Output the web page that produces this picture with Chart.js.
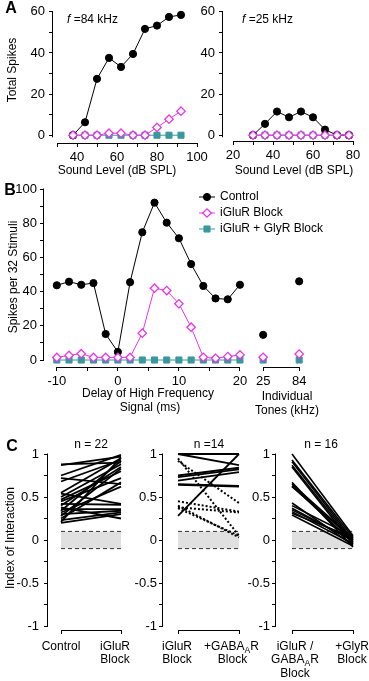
<!DOCTYPE html>
<html>
<head>
<meta charset="utf-8">
<script src="https://cdn.jsdelivr.net/npm/chart.js@4.4.1/dist/chart.umd.min.js"></script>
<style>
  html, body { margin: 0; padding: 0; background: #fff; }
  #wrap { position: relative; width: 369px; height: 681px; overflow: hidden; }
  #wrap canvas { position: absolute; left: 0; top: 0; }
</style>
</head>
<body>
<div id="wrap">
  <canvas id="a84" width="369" height="681"></canvas>
  <canvas id="a25" width="369" height="681"></canvas>
  <canvas id="delay" width="369" height="681"></canvas>
  <canvas id="c1" width="369" height="681"></canvas>
  <canvas id="c2" width="369" height="681"></canvas>
  <canvas id="c3" width="369" height="681"></canvas>
</div>
<script>
// ---- Panel A: total spikes vs sound level (dB SPL) ----
const levels84 = [38, 44, 50, 56, 62, 68, 74, 80, 86, 92];
const control84 = [0, 6.3, 27.4, 37.6, 33.2, 39.5, 51.7, 53.3, 57.5, 58.5];
const iglur84 = [0, 0, 0, 1, 1, 0, 0, 3.8, 7.8, 11.7];
const glyr84 = [0, 0, 0, 0, 0, 0, 0, 0, 0, 0];

const levels25 = [30, 36, 42, 48, 54, 60, 66, 72, 78];
const control25 = [0, 5.5, 11.5, 8.7, 11.5, 8.7, 2.7, 0, 0];
const iglur25 = [0, 0, 0, 0, 0, 0, 0, 0, 0];
const glyr25 = [0, 0, 0, 0, 0, 0, 0, 0, 0];

// ---- Panel B: spikes per 32 stimuli vs delay (ms) ----
const delays = [-10, -8, -6, -4, -2, 0, 2, 4, 6, 8, 10, 12, 14, 16, 18, 20];
const controlDelay = [43.7, 45.8, 44, 45, 15.2, 4.7, 45.5, 74.7, 92, 80.3, 71.2, 56.1, 43.3, 36, 35.5, 44];
const iglurDelay = [1.5, 2.7, 3.7, 1.5, 1.5, 1.5, 1.5, 15.7, 42, 40.6, 32.9, 19.2, 1.6, 1, 2, 3];
const glyrDelay = [0, 0, 0, 0, 0, 0, 0, 0, 0, 0, 0, 0, 0, 0, 0, 0];
const toneLabels = ['25', '84'];
const controlTones = [14.7, 46];
const iglurTones = [1.6, 3.5];
const glyrTones = [0, 0];
const seriesNames = ['Control', 'iGluR Block', 'iGluR + GlyR Block'];

// ---- Panel C: index of interaction, before -> after ----
const c1Control = [0.88, 0.87, 0.75, 0.72, 0.68, 0.55, 0.54, 0.50, 0.47, 0.45, 0.42, 0.40, 0.38, 0.36, 0.34, 0.32, 0.30, 0.28, 0.25, 0.23, 0.21, 0.20];
const c1Iglur = [0.90, 0.97, 0.99, 0.65, 0.93, 0.95, 0.42, 0.88, 0.80, 0.72, 0.41, 0.85, 0.25, 0.36, 0.92, 0.62, 0.34, 0.83, 0.67, 0.32, 0.96, 0.30];
const c2SolidIglur = [1.0, 1.0, 0.75, 0.73, 0.69, 0.65, 0.64, 0.28];
const c2SolidGaba = [1.0, 0.87, 0.84, 0.82, 0.79, 0.63, 0.62, 1.0];
const c2DottedIglur = [0.95, 0.92, 0.45, 0.40, 0.38, 0.37];
const c2DottedGaba = [0.05, 0.43, 0.33, 0.03, 0.32, 0.05];
const c3Gaba = [1.0, 0.93, 0.91, 0.87, 0.85, 0.67, 0.65, 0.63, 0.62, 0.43, 0.40, 0.37, 0.35, 0.33, 0.31, 0.29];
const c3Glyr = [0.05, 0.03, 0.0, -0.02, -0.05, -0.08, 0.02, -0.03, 0.01, -0.06, 0.04, -0.01, 0.0, -0.04, 0.03, -0.07];
const noiseBand = [-0.1, 0.1];

const W = 369, H = 681;
const Y_BOX = 40, X_BOX = 24; // room kept for tick labels
const FONT = '"Liberation Sans", Arial, Helvetica, sans-serif';
const range = (a, b, s) => { const out = []; for (let v = a; v <= b + 1e-9; v += s) out.push(Math.round(v * 100) / 100); return out; };
const every = step => v => Math.abs(v / step - Math.round(v / step)) < 1e-9 ? String(v) : '';

// order: diamonds drawn on top, then circles, squares underneath
const controlStyle = {order: 1, borderColor: '#000', backgroundColor: '#000', borderWidth: 1, pointStyle: 'circle', pointRadius: 3.6,
  pointBackgroundColor: '#000', pointBorderColor: '#000', pointBorderWidth: 1};
const iglurStyle = {order: 0, borderColor: '#e935e9', backgroundColor: '#fff', borderWidth: 1, pointStyle: 'rectRot', pointRadius: 4.2,
  pointBackgroundColor: '#fff', pointBorderColor: '#e935e9', pointBorderWidth: 1.3};
const glyrStyle = {order: 2, borderColor: '#3a989c', backgroundColor: '#3a989c', borderWidth: 1, pointStyle: 'rect', pointRadius: 4.3,
  pointBackgroundColor: '#3a989c', pointBorderColor: '#3a989c', pointBorderWidth: 1};

function series(xs, ys, style, extra) {
  return Object.assign({data: xs.map((x, i) => ({x, y: ys[i]})), clip: false, fill: false}, style, extra || {});
}

function linearAxis(min, max, ticks, label, pad, size) {
  return {
    type: 'linear', min, max,
    afterFit: s => { if (s.isHorizontal()) s.height = X_BOX; else s.width = Y_BOX; },
    afterBuildTicks: s => { s.ticks = ticks.map(v => ({value: v})); },
    grid: {drawOnChartArea: false, drawTicks: true, tickLength: 4, tickColor: '#000', tickWidth: 1, color: '#000'},
    border: {display: false},
    ticks: {padding: pad, color: '#000', font: {family: FONT, size: size || 12}, autoSkip: false,
      maxRotation: 0, minRotation: 0, callback: v => label(v)}
  };
}

// axis lines that only span part of the scale (offset axes)
function axisLines(xSegs, ySegs) {
  return {
    id: 'axisLines',
    afterDatasetsDraw(chart) {
      const {ctx, chartArea, scales} = chart;
      ctx.save();
      ctx.strokeStyle = '#000';
      ctx.lineWidth = 1;
      ctx.beginPath();
      const yb = Math.round(chartArea.bottom) + 0.5;
      xSegs.forEach(([a, b]) => {
        ctx.moveTo(Math.round(scales.x.getPixelForValue(a) - 0.5), yb);
        ctx.lineTo(Math.round(scales.x.getPixelForValue(b) - 0.5) + 1, yb);
      });
      const xl = Math.round(chartArea.left) - 0.5;
      ySegs.forEach(([a, b]) => {
        ctx.moveTo(xl, scales.y.getPixelForValue(a));
        ctx.lineTo(xl, scales.y.getPixelForValue(b) - 0.5);
      });
      ctx.stroke();
      ctx.restore();
    }
  };
}

function drawNote(ctx, n) {
  const parts = typeof n.t === 'string' ? [{s: n.t}] : n.t;
  const size = n.size || 12;
  const fontOf = p => (p.italic ? 'italic ' : '') + (n.bold ? 'bold ' : '') + (p.sub ? size * 0.72 : size) + 'px ' + FONT;
  ctx.save();
  ctx.translate(n.x, n.y);
  if (n.rot) ctx.rotate(n.rot * Math.PI / 180);
  let w = 0;
  const widths = parts.map(p => { ctx.font = fontOf(p); const pw = ctx.measureText(p.s).width; w += pw; return pw; });
  let x = n.align === 'left' ? 0 : (n.align === 'right' ? -w : -w / 2);
  ctx.fillStyle = '#000';
  ctx.textBaseline = 'middle';
  ctx.textAlign = 'left';
  parts.forEach((p, i) => {
    ctx.font = fontOf(p);
    ctx.fillText(p.s, x, p.sub ? size * 0.32 : 0);
    x += widths[i];
  });
  ctx.restore();
}

function notes(items) {
  return {id: 'notes', afterDraw(chart) { items.forEach(n => drawNote(chart.ctx, n)); }};
}

// area = [left, top, right, bottom] of the plotting box, in page pixels
function makeChart(id, area, xAxis, yAxis, datasets, plugins) {
  return new Chart(document.getElementById(id), {
    type: 'line',
    data: {datasets},
    options: {
      responsive: false, animation: false, events: [],
      layout: {padding: {left: area[0] - Y_BOX, top: area[1], right: W - area[2], bottom: H - area[3] - X_BOX}},
      plugins: {legend: {display: false}, tooltip: {enabled: false}},
      elements: {line: {tension: 0}},
      scales: {x: xAxis, y: yAxis}
    },
    plugins
  });
}

// ---------- A, 84 kHz ----------
makeChart('a84', [53, 8, 197, 143],
  linearAxis(28, 100, range(30, 100, 10), every(20), 3, 13),
  linearAxis(-3.78, 60, range(0, 60, 10), every(20), 4, 13),
  [series(levels84, control84, controlStyle), series(levels84, iglur84, iglurStyle), series(levels84, glyr84, glyrStyle)],
  [axisLines([[30, 100]], [[-1, 60]]), notes([
    {t: 'A', x: 11, y: 9, size: 16, bold: true},
    {t: [{s: 'f', italic: true}, {s: ' =84 kHz'}], x: 67, y: 20, align: 'left'},
    {t: 'Total Spikes', x: 13, y: 70, rot: -90},
    {t: 'Sound Level (dB SPL)', x: 117, y: 171}
  ])]);

// ---------- A, 25 kHz ----------
makeChart('a25', [223, 8, 361, 141],
  linearAxis(15, 84, range(20, 80, 10), every(20), 3, 13),
  linearAxis(-2.83, 60, range(0, 60, 10), every(20), 4, 13),
  [series(levels25, control25, controlStyle), series(levels25, iglur25, iglurStyle), series(levels25, glyr25, glyrStyle)],
  [axisLines([[20, 80]], [[-1, 60]]), notes([
    {t: [{s: 'f', italic: true}, {s: ' =25 kHz'}], x: 242, y: 20, align: 'left'},
    {t: 'Sound Level (dB SPL)', x: 294, y: 171}
  ])]);

// ---------- B ----------
const toneSlots = [23.8, 29.7]; // where the individual tones sit on the delay axis
const legendB = {
  id: 'legendB',
  afterDraw(chart) {
    const ctx = chart.ctx;
    chart.data.datasets.slice(0, 3).forEach((ds, i) => {
      const y = 197 + i * 16;
      ctx.save();
      ctx.strokeStyle = ds.borderColor;
      ctx.lineWidth = 1;
      ctx.beginPath(); ctx.moveTo(199, y); ctx.lineTo(215, y); ctx.stroke();
      ctx.fillStyle = ds.pointBackgroundColor;
      ctx.strokeStyle = ds.pointBorderColor;
      ctx.lineWidth = ds.pointBorderWidth;
      Chart.helpers.drawPoint(ctx, {pointStyle: ds.pointStyle, radius: ds.pointRadius, rotation: 0, borderWidth: ds.pointBorderWidth}, 207, y);
      ctx.restore();
      drawNote(ctx, {t: ds.label, x: 220, y, align: 'left'});
    });
  }
};
makeChart('delay', [44, 189, 301, 367],
  linearAxis(-12.1, 30, range(-10, 20, 5).concat(toneSlots), v => {
    const k = toneSlots.indexOf(v);
    return k >= 0 ? toneLabels[k] : every(10)(v);
  }, 3, 13),
  linearAxis(-4.09, 100, range(0, 100, 10), every(20), 3, 13),
  [
    series(delays, controlDelay, controlStyle, {label: seriesNames[0]}),
    series(delays, iglurDelay, iglurStyle, {label: seriesNames[1]}),
    series(delays, glyrDelay, glyrStyle, {label: seriesNames[2]}),
    series(toneSlots, controlTones, controlStyle, {showLine: false}),
    series(toneSlots, iglurTones, iglurStyle, {showLine: false}),
    series(toneSlots, glyrTones, glyrStyle, {showLine: false})
  ],
  [axisLines([[-10, 20], toneSlots], [[-0.5, 100]]), legendB, notes([
    {t: 'B', x: 10, y: 191, size: 16, bold: true},
    {t: 'Spikes per 32 Stimuli', x: 14, y: 277, rot: -90},
    {t: 'Delay of High Frequency', x: 148, y: 394},
    {t: 'Signal (ms)', x: 150, y: 408},
    {t: 'Individual', x: 287, y: 397},
    {t: 'Tones (kHz)', x: 287, y: 411}
  ])]);

// ---------- C ----------
function pairLines(pre, post, style) {
  return pre.map((v, i) => Object.assign({data: [{x: 0, y: v}, {x: 1, y: post[i]}], pointRadius: 0, clip: false,
    fill: false, borderColor: '#000', borderWidth: 1.8}, style || {}));
}
function bandSets() {
  const edge = {borderColor: '#333', borderWidth: 1, borderDash: [4, 3], pointRadius: 0, clip: false};
  return [
    Object.assign({data: [{x: 0, y: noiseBand[1]}, {x: 1, y: noiseBand[1]}], fill: false}, edge),
    Object.assign({data: [{x: 0, y: noiseBand[0]}, {x: 1, y: noiseBand[0]}], fill: '-1', backgroundColor: '#e0e0e0'}, edge)
  ];
}
function cChart(id, left, x0, pxPerUnit, pad, datasets, items) {
  const xmin = -(x0 - left) / pxPerUnit, xmax = 1.2;
  const right = left + (xmax - xmin) * pxPerUnit;
  return makeChart(id, [left, 449.7, right, 630],
    linearAxis(xmin, xmax, [0, 1], () => '', 3, 12),
    linearAxis(-1.0465, 1.05, range(-1, 1, 0.25), every(0.5), pad, 13),
    datasets.concat(bandSets()),
    [axisLines([[0, 1]], [[-1, 1]]), notes(items)]);
}
const GABA = [{s: 'GABA'}, {s: 'A', sub: true}, {s: 'R'}];

cChart('c1', 48, 61, 60, 5, pairLines(c1Control, c1Iglur), [
  {t: 'C', x: 12, y: 447, size: 16, bold: true},
  {t: 'Index of Interaction', x: 11, y: 538, rot: -90},
  {t: 'n = 22', x: 91, y: 445},
  {t: 'Control', x: 61, y: 647},
  {t: 'iGluR', x: 115, y: 647},
  {t: 'Block', x: 115, y: 660}
]);
cChart('c2', 163, 178, 61, 2,
  pairLines(c2SolidIglur, c2SolidGaba).concat(pairLines(c2DottedIglur, c2DottedGaba, {borderDash: [2, 2], borderWidth: 2})), [
  {t: 'n =14', x: 209, y: 445},
  {t: 'iGluR', x: 177, y: 647},
  {t: 'Block', x: 177, y: 660},
  {t: [{s: '+'}].concat(GABA), x: 231.5, y: 647},
  {t: 'Block', x: 232.5, y: 660}
]);
cChart('c3', 276, 292, 61, 2, pairLines(c3Gaba, c3Glyr, {borderWidth: 1.6}), [
  {t: 'n = 16', x: 321, y: 445},
  {t: 'iGluR /', x: 295, y: 647},
  {t: GABA, x: 295, y: 660},
  {t: 'Block', x: 295, y: 674},
  {t: '+GlyR', x: 352, y: 647},
  {t: 'Block', x: 352, y: 660}
]);
</script>
</body>
</html>
